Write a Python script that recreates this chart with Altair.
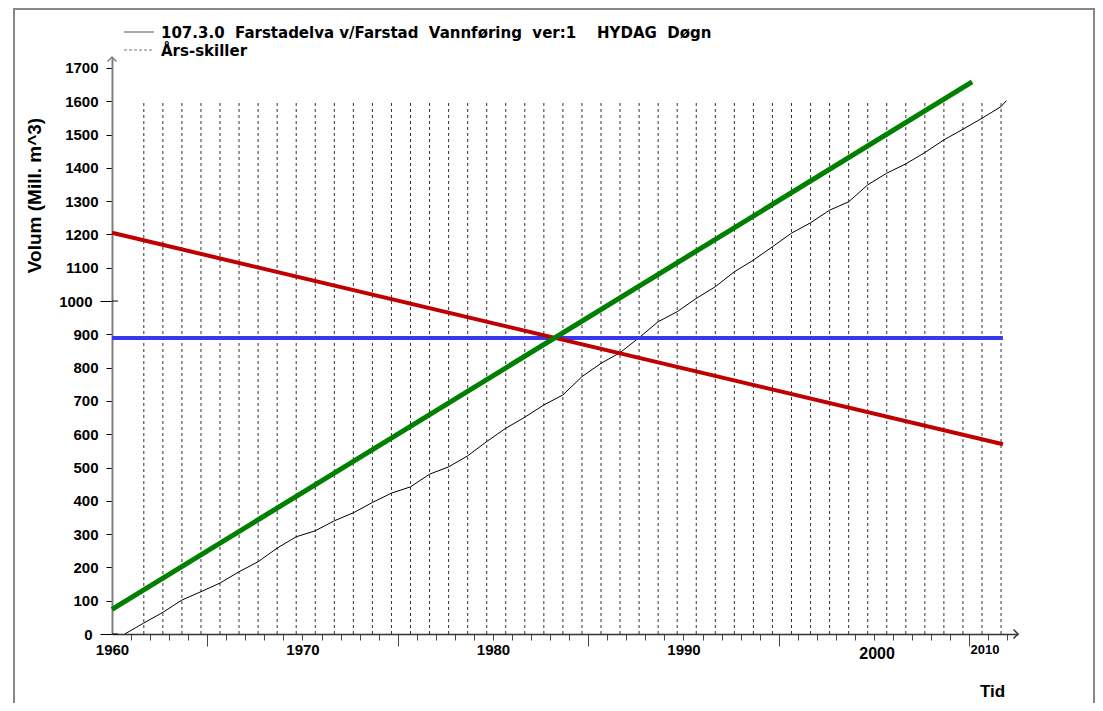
import altair as alt
import pandas as pd

FONT = "Liberation Sans"
LEG_FONT = "DejaVu Sans"
W, H = 906, 577

# ---- data ----
# cumulative volume (Mill. m^3) at each 1 September (start of hydrological year)
cum_years = [1960.67, 1961.67, 1962.67, 1963.67, 1964.67, 1965.67, 1966.67, 1967.67,
             1968.67, 1969.67, 1970.67, 1971.67, 1972.67, 1973.67, 1974.67, 1975.67,
             1976.67, 1977.67, 1978.67, 1979.67, 1980.67, 1981.67, 1982.67, 1983.67,
             1984.67, 1985.67, 1986.67, 1987.67, 1988.67, 1989.67, 1990.67, 1991.67,
             1992.67, 1993.67, 1994.67, 1995.67, 1996.67, 1997.67, 1998.67, 1999.67,
             2000.67, 2001.67, 2002.67, 2003.67, 2004.67, 2005.67, 2006.67, 2006.95]
cum_values = [0, 33, 65, 102, 127, 153, 187, 217, 258, 292, 310, 340, 364, 395, 423, 442,
              480, 502, 535, 578, 618, 651, 688, 718, 773, 813, 845, 890, 938, 968, 1008,
              1043, 1088, 1123, 1163, 1204, 1235, 1273, 1298, 1349, 1384, 1412, 1446, 1484,
              1516, 1549, 1584, 1602]

# year separators ("Års-skiller")
sep_years = [y + 0.67 for y in range(1961, 2007)]
sep_top = 1600

green_x = [1960, 2005.15]
green_y = [74, 1658]
red_x = [1960, 2006.77]
red_y = [1205, 570]
blue_x = [1960, 2006.77]
blue_y = [889, 889]

y_ticks = list(range(0, 1800, 100))
x_ticks = list(range(1960, 2008))
late_labels = ["2000", "2010"]
late_label_x = [2000.16, 2005.83]

legend_line = "107.3.0\u00a0\u00a0Farstadelva v/Farstad\u00a0\u00a0Vannføring\u00a0\u00a0ver:1\u00a0\u00a0\u00a0\u00a0HYDAG\u00a0\u00a0Døgn"
legend_sep = "Års-skiller"
y_title = "Volum (Mill. m^3)"
x_title = "Tid"

# ---- scales & axes ----
xscale = alt.Scale(domain=[1960, 2007.56], nice=False, zero=False)
yscale = alt.Scale(domain=[0, 1733], nice=False, zero=False)

x_axis = alt.Axis(
    values=x_ticks, format="d",
    labelExpr="(datum.value % 10 == 0 && datum.value < 2000) ? datum.label : ''",
    tickSize=alt.ExprRef(expr="datum.value % 10 == 5 ? 12 : 6"),
    tickOpacity=alt.ExprRef(expr="datum.value == 1960 ? 0 : 1"),
    tickColor="#444", tickWidth=1,
    domainColor="#333", domainWidth=1.5,
    labelFont=FONT, labelFontSize=15, labelFontWeight="bold", labelColor="black",
    labelPadding=2, labelOverlap=False, labelFlush=False, grid=False,
    title=x_title, titleFont=FONT, titleFontSize=17, titleFontWeight="bold",
    titleColor="black", titleX=880, titleY=62, titleAlign="center",
    titleBaseline="alphabetic",
)
y_axis = alt.Axis(
    values=y_ticks, format="d",
    tickSize=alt.ExprRef(expr="(datum.value == 0 || datum.value == 1000) ? 12 : 6"),
    tickColor="black", tickWidth=1,
    domainColor="#808080", domainWidth=2,
    labelFont=FONT, labelFontSize=15, labelFontWeight="bold", labelColor="black",
    labelPadding=8, labelOverlap=False, labelFlush=False, grid=False,
    title=y_title, titleFont=FONT, titleFontSize=19, titleFontWeight="bold",
    titleColor="black", titleX=-78, titleY=138, titleAngle=270,
    titleAlign="center", titleBaseline="middle",
)


def X(field="x:Q"):
    return alt.X(field, scale=xscale, axis=x_axis)


def Y(field="y:Q"):
    return alt.Y(field, scale=yscale, axis=y_axis)


cum_df = pd.DataFrame({"x": cum_years, "y": cum_values})
sep_df = pd.DataFrame({"x": sep_years, "y": [0] * len(sep_years), "y2": [sep_top] * len(sep_years)})
one = pd.DataFrame({"a": [0]})

seps = alt.Chart(sep_df).mark_rule(color="#333", strokeWidth=1, strokeDash=[3, 3]).encode(
    x=X(), y=Y(), y2="y2:Q",
)

cum = alt.Chart(cum_df).mark_line(color="black", strokeWidth=1).encode(x=X(), y=Y())


def straight(xs, ys, color, width):
    return alt.Chart(pd.DataFrame({"x": xs, "y": ys})).mark_line(
        color=color, strokeWidth=width
    ).encode(x=X(), y=Y())


blue = straight(blue_x, blue_y, "#3838f0", 4)
red = straight(red_x, red_y, "#c00000", 4)
green = straight(green_x, green_y, "#008000", 5)

# inward parts of the long ticks at 0 and 1000
inner_ticks = alt.Chart(pd.DataFrame({"y": [0, 1000]})).mark_rule(
    color="black", strokeWidth=1
).encode(y=Y(), x=alt.value(0), x2=alt.value(6))

# axis arrow heads
y_arrow = alt.Chart(one).mark_point(
    shape="M-1,1L0,0L1,1", filled=False, size=80, color="#808080", strokeWidth=1.5, opacity=1
).encode(x=alt.value(0), y=alt.value(0))
x_arrow = alt.Chart(one).mark_point(
    shape="M-1,-1L0,0L-1,1", filled=False, size=80, color="#333", strokeWidth=1.5, opacity=1
).encode(x=alt.value(W), y=alt.value(H))

late_df = pd.DataFrame({"x": late_label_x, "t": late_labels})
lab2000 = alt.Chart(late_df.iloc[[0]]).mark_text(
    font=FONT, fontSize=16, fontWeight="bold", color="black", baseline="middle", align="center"
).encode(x=X(), y=alt.value(H + 20), text="t:N")
lab2010 = alt.Chart(late_df.iloc[[1]]).mark_text(
    font=FONT, fontSize=13, fontWeight="bold", color="black", baseline="middle", align="center"
).encode(x=X(), y=alt.value(H + 16), text="t:N")

# legend
leg_solid = alt.Chart(one).mark_rule(color="#555", strokeWidth=1).encode(
    x=alt.value(12), x2=alt.value(42), y=alt.value(-25))
leg_dash = alt.Chart(one).mark_rule(color="#777", strokeWidth=1, strokeDash=[3, 2]).encode(
    x=alt.value(12), x2=alt.value(42), y=alt.value(-7))
leg_t1 = alt.Chart(pd.DataFrame({"t": [legend_line]})).mark_text(
    font=LEG_FONT, fontSize=15, fontWeight="bold", color="black", align="left", baseline="middle"
).encode(x=alt.value(49), y=alt.value(-24), text="t:N")
leg_t2 = alt.Chart(pd.DataFrame({"t": [legend_sep]})).mark_text(
    font=LEG_FONT, fontSize=15, fontWeight="bold", color="black", align="left", baseline="middle"
).encode(x=alt.value(49), y=alt.value(-6), text="t:N")

# outer frame
frame_left = alt.Chart(one).mark_rule(color="#888", strokeWidth=2).encode(
    x=alt.value(-98), y=alt.value(-49), y2=alt.value(646))
frame_top = alt.Chart(one).mark_rule(color="#888", strokeWidth=2).encode(
    x=alt.value(-98), x2=alt.value(982), y=alt.value(-48))
frame_right = alt.Chart(one).mark_rule(color="#888", strokeWidth=2).encode(
    x=alt.value(982), y=alt.value(-49), y2=alt.value(646))

chart = alt.layer(
    seps, cum, blue, red, green, inner_ticks, y_arrow, x_arrow, lab2000, lab2010,
    leg_solid, leg_dash, leg_t1, leg_t2, frame_left, frame_top, frame_right,
).properties(
    width=W, height=H,
    padding={"left": 104, "top": 49, "right": 77, "bottom": 69},
    autosize=alt.AutoSizeParams(type="none"),
    background="white",
).configure_view(strokeWidth=0)

chart.save("out.html", embed_options={"renderer": "svg", "actions": False})
